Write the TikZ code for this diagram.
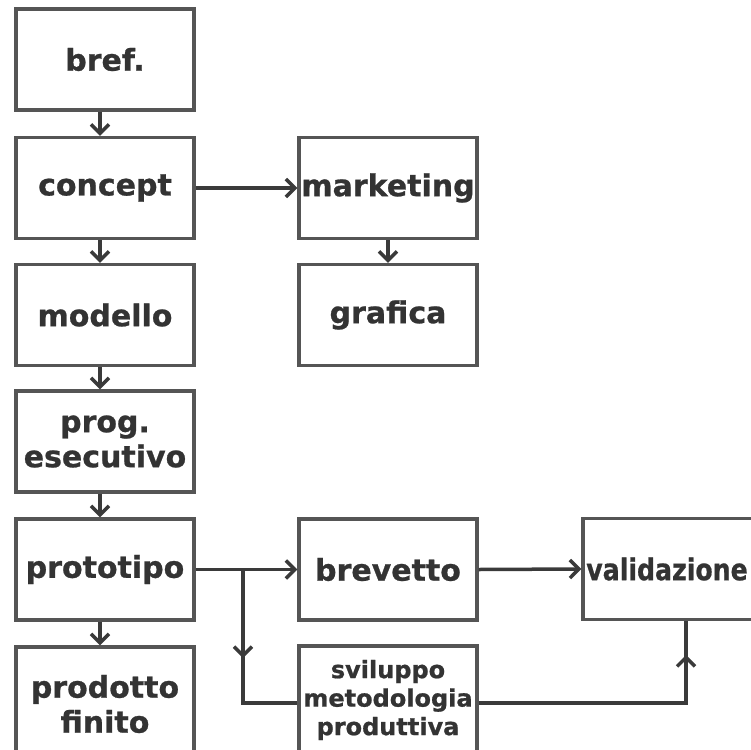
\documentclass[tikz,border=0pt]{standalone}
\usepackage{fontspec}
\setmainfont{DejaVu Sans}[BoldFeatures={FakeBold=0.8}]
\usetikzlibrary{arrows.meta}
\definecolor{txt}{HTML}{333333}
\definecolor{brd}{HTML}{555555}
\definecolor{lnc}{HTML}{3A3A3A}
\begin{document}
\begin{tikzpicture}[x=1pt,y=-1pt,
  box/.style={draw=brd, line width=3.3pt, fill=white, minimum width=178pt, minimum height=101pt,
              inner sep=0pt, font=\bfseries\fontsize{30}{35}\selectfont, text=txt, align=center},
  smalltext/.style={font=\bfseries\fontsize{24}{28.5}\selectfont},
  arr/.style={draw=lnc, line width=3.5pt, -{Straight Barb[length=9pt,width=18pt,line width=3.5pt]}},
  conn/.style={draw=lnc, line width=3.5pt}]
\useasboundingbox (0,0) rectangle (751,749);
% left column
\node[box] (bref) at (105,59.5) {bref.};
\node[box] (concept) at (105,188) {concept};
\node[box] (modello) at (105,315) {modello};
\node[box] (prog) at (105,441.5) {prog.\\esecutivo};
\node[box] (proto) at (105,569.5) {prototipo};
\node[box, minimum height=114pt] (prod) at (105,704) {prodotto\\finito};
% middle column
\node[box] (marketing) at (388,188) {marketing};
\node[box] (grafica) at (388,315) {grafica};
\node[box] (brevetto) at (388,569.5) {brevetto};
\node[box, smalltext, minimum height=108pt] (svil) at (388,700) {sviluppo\\metodologia\\produttiva};
% right
\node[box] (valid) at (672,569) {\hspace*{-10pt}\scalebox{0.84}[1]{validazione}};
% vertical arrows left column
\draw[arr] ([xshift=-5pt]bref.south) -- ([xshift=-5pt]concept.north);
\draw[arr] ([xshift=-5pt]concept.south) -- ([xshift=-5pt]modello.north);
\draw[arr] ([xshift=-5pt]modello.south) -- ([xshift=-5pt]prog.north);
\draw[arr] ([xshift=-5pt]prog.south) -- ([xshift=-5pt]proto.north);
\draw[arr] ([xshift=-5pt]proto.south) -- ([xshift=-5pt]prod.north);
% horizontal
\draw[arr] (concept.east) -- (marketing.west);
\draw[arr] (marketing.south) -- (grafica.north);
\draw[arr] (proto.east) -- (brevetto.west);
\draw[arr] (brevetto.east) -- (valid.west);
% branch to sviluppo
\coordinate (j) at (243,569.5);
\coordinate (jb) at (243,703);
\coordinate (jm) at (243,658);
\draw[conn] (j) -- (jb) -- (jb -| svil.west);
\draw[arr] (j) -- (jm);
% sviluppo to validazione
\coordinate (v) at (686,703);
\coordinate (vm) at (686,655);
\draw[conn] (svil.east |- v) -- (v) -- (v |- valid.south);
\draw[arr] (v) -- (vm);
\end{tikzpicture}
\end{document}
